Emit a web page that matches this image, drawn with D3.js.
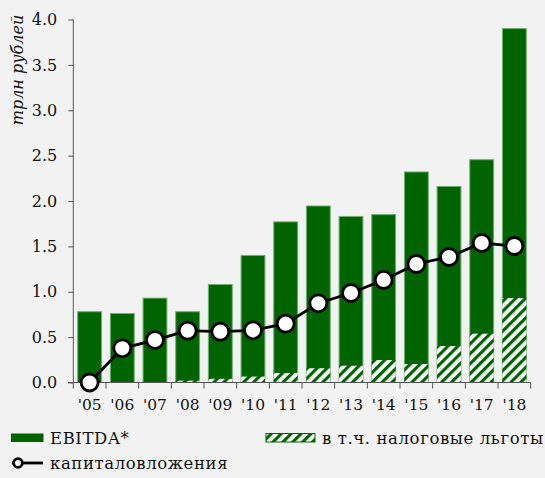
<!DOCTYPE html>
<html><head><meta charset="utf-8">
<script src="https://cdn.jsdelivr.net/npm/d3@7"></script>
<style>
html,body{margin:0;padding:0;background:#f2f2f2;}
svg{display:block;font-family:"DejaVu Serif",serif;}
</style></head>
<body>
<svg id="chart" width="545" height="478"></svg>
<script>
const years = ["'05","'06","'07","'08","'09","'10","'11","'12","'13","'14","'15","'16","'17","'18"];
const ebitda = [0.78,0.76,0.93,0.78,1.08,1.40,1.77,1.945,1.83,1.85,2.32,2.16,2.455,3.90];
const taxBreaks = [0,0,0,0.02,0.04,0.065,0.105,0.157,0.185,0.248,0.204,0.402,0.538,0.931];
const capex = [0.0,0.377,0.468,0.571,0.56,0.575,0.648,0.873,0.986,1.13,1.306,1.383,1.537,1.504];
const yTicks = [0,0.5,1,1.5,2,2.5,3,3.5,4];
const labels = {ebitda:"EBITDA*", tax:"в т.ч. налоговые льготы", capex:"капиталовложения", yTitle:"трлн рублей"};

const svg = d3.select("#chart");
const green = "#006400", edge = "#6faf6f", axisCol = "#555";

const defs = svg.append("defs");
const pat = defs.append("pattern").attr("id","hatch").attr("patternUnits","userSpaceOnUse")
  .attr("width",7).attr("height",7).attr("patternTransform","rotate(45)");
pat.append("rect").attr("width",7).attr("height",7).attr("fill","#fff");
pat.append("rect").attr("width",3.2).attr("height",7).attr("fill",green);

const x = d3.scaleBand().domain(years).range([73.3,530.7]).paddingInner(0.27).paddingOuter(0.135);
const y = d3.scaleLinear().domain([0,4]).range([382.5,19.5]);

// bars
svg.append("g").selectAll("rect").data(years).join("rect")
  .attr("x",d=>x(d)).attr("width",x.bandwidth())
  .attr("y",(d,i)=>y(ebitda[i])).attr("height",(d,i)=>y(0)-y(ebitda[i]))
  .attr("fill",green).attr("stroke",edge).attr("stroke-width",1);
svg.append("g").selectAll("rect").data(years).join("rect")
  .attr("x",d=>x(d)).attr("width",x.bandwidth())
  .attr("y",(d,i)=>y(taxBreaks[i])).attr("height",(d,i)=>y(0)-y(taxBreaks[i]))
  .attr("fill","url(#hatch)");

// axes
const yAxis = svg.append("g").attr("transform","translate(73.3,0)")
  .call(d3.axisLeft(y).tickValues(yTicks).tickFormat(d3.format(".1f")).tickSize(5).tickPadding(11));
yAxis.select(".domain").attr("d","M0,19.5V382.5").attr("stroke",axisCol);
yAxis.selectAll(".tick line").attr("stroke",axisCol);
yAxis.selectAll("text").attr("font-family","DejaVu Serif").attr("font-size",16).attr("fill","#111");

const xAxis = svg.append("g").attr("transform","translate(0,382.5)")
  .call(d3.axisBottom(x).tickSize(0).tickPadding(16));
xAxis.select(".domain").attr("d","M68,0H530.7").attr("stroke",axisCol);
xAxis.selectAll("text").attr("font-family","DejaVu Serif").attr("font-size",15.5).attr("fill","#111");
// band boundary ticks
const bounds = years.map(d=>x(d)-x.step()*x.paddingInner()/2).concat([x.range()[1]]);
bounds[0] = x.range()[0];
xAxis.append("g").selectAll("line").data(bounds).join("line")
  .attr("x1",d=>d).attr("x2",d=>d).attr("y1",0).attr("y2",6).attr("stroke",axisCol);

// capex line
const cx = d=>x(d)+x.bandwidth()/2;
svg.append("path").datum(years)
  .attr("d",d3.line().x(cx).y((d,i)=>y(capex[i])))
  .attr("fill","none").attr("stroke","#000").attr("stroke-width",2.8);
svg.append("g").selectAll("circle").data(years).join("circle")
  .attr("cx",cx).attr("cy",(d,i)=>y(capex[i])).attr("r",8.5)
  .attr("fill","#fff").attr("stroke","#000").attr("stroke-width",2.8);

// y title
svg.append("text").attr("transform","translate(23,70) rotate(-90)")
  .attr("text-anchor","middle").attr("font-style","italic").attr("font-size",16).attr("fill","#111")
  .text(labels.yTitle);

// legend
const lg = svg.append("g").attr("font-size",16.5).attr("letter-spacing",0.6).attr("fill","#111");
lg.append("rect").attr("x",11).attr("y",433.5).attr("width",32.5).attr("height",8.5).attr("fill",green);
lg.append("text").attr("x",50).attr("y",444).text(labels.ebitda);
lg.append("rect").attr("x",266).attr("y",433.5).attr("width",49).attr("height",8.5).attr("fill","url(#hatch)")
  .attr("stroke",green).attr("stroke-width",1);
lg.append("text").attr("x",322).attr("y",444).text(labels.tax);
lg.append("line").attr("x1",12).attr("x2",43).attr("y1",463).attr("y2",463).attr("stroke","#000").attr("stroke-width",2.8);
lg.append("circle").attr("cx",18).attr("cy",463).attr("r",4.3).attr("fill","#fff").attr("stroke","#000").attr("stroke-width",2.8);
lg.append("text").attr("x",50).attr("y",469).text(labels.capex);
</script>
</body></html>
